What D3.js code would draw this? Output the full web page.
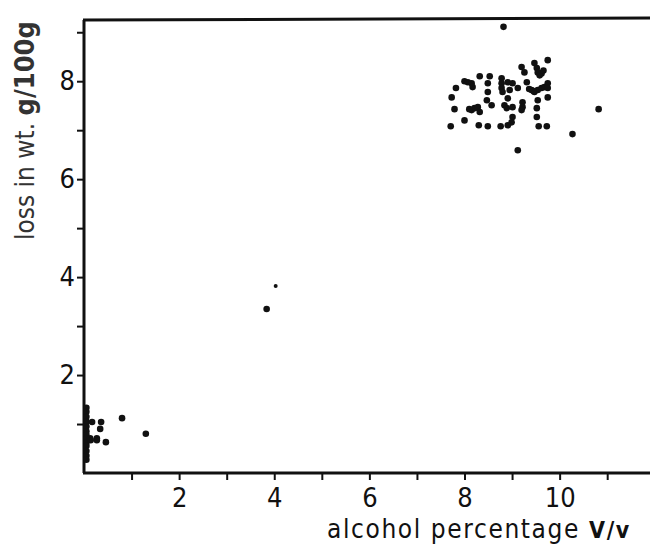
<!DOCTYPE html>
<html>
<head>
<meta charset="utf-8">
<script src="https://cdn.jsdelivr.net/npm/d3@7"></script>
<style>
  body { margin: 0; background: #fff; }
  svg { display: block; }
</style>
</head>
<body>
<svg width="650" height="546"></svg>
<script>
// alcohol % v/v against loss in weight (g/100g)
var alcohol = [
  8.82, 9.75, 9.47, 9.52, 9.54, 9.62, 9.20, 9.26, 8.00, 8.07,
  8.15, 8.17, 8.32, 8.53, 7.82, 8.49, 8.49, 8.78, 8.78, 8.78,
  8.80, 8.91, 9.01, 8.95, 9.12, 9.31, 9.41, 9.47, 9.54, 9.62,
  9.68, 9.75, 9.75, 7.73, 9.75, 9.54, 8.91, 8.47, 8.57, 8.84,
  8.89, 9.01, 9.22, 9.22, 9.20, 7.79, 8.15, 8.21, 8.28, 8.32,
  9.52, 10.82, 8.00, 9.52, 9.01, 8.99, 8.91, 7.71, 8.30, 8.49,
  8.76, 9.56, 9.73, 10.27, 9.12, 9.58, 9.66, 8.10, 9.45, 9.36,
  0.05, 0.05, 0.05, 0.05, 0.05, 0.05, 0.05, 0.05, 0.05, 0.05,
  0.05, 0.05, 0.05, 0.17, 0.36, 0.34, 0.13, 0.14, 0.27, 0.27,
  0.46, 0.80, 1.30, 3.84
];
var loss = [
  9.11, 8.43, 8.37, 8.27, 8.18, 8.16, 8.29, 8.18, 8.00, 7.98,
  7.96, 7.88, 8.10, 8.10, 7.86, 7.96, 7.78, 8.06, 7.96, 7.86,
  7.78, 7.98, 7.96, 7.82, 7.86, 7.98, 7.82, 7.78, 7.82, 7.86,
  7.88, 7.96, 7.86, 7.67, 7.67, 7.61, 7.65, 7.61, 7.51, 7.51,
  7.45, 7.47, 7.57, 7.47, 7.41, 7.43, 7.41, 7.45, 7.47, 7.37,
  7.45, 7.43, 7.20, 7.27, 7.27, 7.16, 7.10, 7.08, 7.10, 7.08,
  7.08, 7.08, 7.08, 6.92, 6.59, 8.12, 8.22, 7.43, 7.80, 7.84,
  1.33, 1.25, 1.15, 1.05, 0.95, 0.85, 0.78, 0.70, 0.62, 0.55,
  0.45, 0.35, 0.27, 1.04, 1.04, 0.90, 0.71, 0.67, 0.71, 0.67,
  0.63, 1.12, 0.80, 3.35
];
// a couple of the dots are printed smaller
var smallAlcohol = [4.03],
    smallLoss = [3.82];

var xTicks = [1, 2, 3, 4, 5, 6, 7, 8, 9, 10, 11],
    yTicks = [1, 2, 3, 4, 5, 6, 7, 8, 9];
var xLabelled = [2, 4, 6, 8, 10],
    yLabelled = [2, 4, 6, 8];

var svg = d3.select("svg"),
    margin = {top: 20, right: 0, bottom: 73, left: 84},
    width = +svg.attr("width") - margin.left - margin.right,
    height = +svg.attr("height") - margin.top - margin.bottom;

var x = d3.scaleLinear().domain([0, 11.9]).range([0, width]),
    y = d3.scaleLinear().domain([0, 9.25]).range([height, 0]);

var ink = "#111";
var font = "'DejaVu Sans Condensed', 'DejaVu Sans', sans-serif";

var g = svg.append("g")
    .attr("transform", "translate(" + margin.left + "," + margin.top + ")");

var xAxis = d3.axisBottom(x)
    .tickValues(xTicks)
    .tickSize(7)
    .tickPadding(8)
    .tickFormat(function(d) { return xLabelled.indexOf(d) >= 0 ? d : ""; });

var yAxis = d3.axisLeft(y)
    .tickValues(yTicks)
    .tickSize(7)
    .tickPadding(2)
    .tickFormat(function(d) { return yLabelled.indexOf(d) >= 0 ? d : ""; });

var gx = g.append("g")
    .attr("transform", "translate(0," + height + ")")
    .call(xAxis);

var gy = g.append("g")
    .call(yAxis);

[gx, gy].forEach(function(a) {
  a.select(".domain").remove();
  a.selectAll(".tick line").attr("stroke", ink).attr("stroke-width", 2);
  a.selectAll(".tick text")
    .attr("fill", ink)
    .style("font-family", font)
    .style("font-size", "27px");
});

// frame: left, bottom and top lines (no right edge in the original)
g.append("line")
    .attr("x1", 0).attr("x2", 0)
    .attr("y1", 0).attr("y2", height)
    .attr("stroke", ink).attr("stroke-width", 3);
g.append("line")
    .attr("x1", -1).attr("x2", width)
    .attr("y1", height).attr("y2", height)
    .attr("stroke", ink).attr("stroke-width", 3);
g.append("line")
    .attr("x1", -1).attr("x2", width)
    .attr("y1", 0).attr("y2", -2)
    .attr("stroke", ink).attr("stroke-width", 3);

var points = alcohol.map(function(a, i) { return {a: a, l: loss[i]}; });
var smallPoints = smallAlcohol.map(function(a, i) { return {a: a, l: smallLoss[i]}; });

g.selectAll("circle.pt")
    .data(points)
  .enter().append("circle")
    .attr("class", "pt")
    .attr("cx", function(d) { return x(d.a); })
    .attr("cy", function(d) { return y(d.l); })
    .attr("r", 3.3)
    .attr("fill", ink);

g.selectAll("circle.sm")
    .data(smallPoints)
  .enter().append("circle")
    .attr("class", "sm")
    .attr("cx", function(d) { return x(d.a); })
    .attr("cy", function(d) { return y(d.l); })
    .attr("r", 2)
    .attr("fill", ink);

// axis titles
var xt = svg.append("text")
    .attr("x", 327)
    .attr("y", 538)
    .attr("fill", ink)
    .style("font-family", font)
    .style("font-size", "26px")
    .style("letter-spacing", "1.6px");
xt.append("tspan").text("alcohol percentage ");
xt.append("tspan").style("font-weight", "bold").style("font-size", "23px").text("V/v");

var yt = svg.append("text")
    .attr("transform", "translate(34,240)rotate(-90)")
    .attr("fill", "#333")
    .style("font-family", font)
    .style("font-size", "26px");
yt.append("tspan").text("loss in wt. ");
yt.append("tspan").style("font-weight", "bold").style("font-size", "27px").text("g/100g");
</script>
</body>
</html>
